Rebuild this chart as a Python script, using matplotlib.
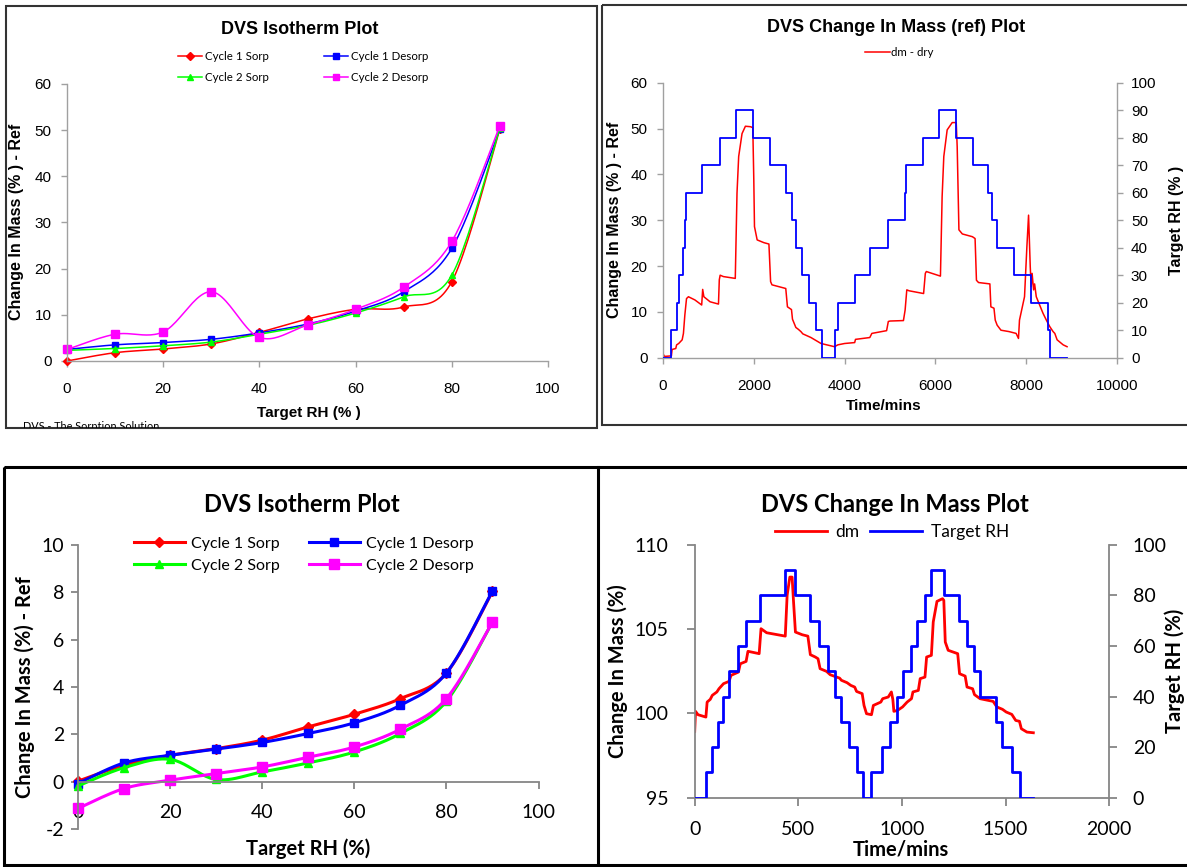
import numpy as np
import matplotlib
matplotlib.use("Agg")
import matplotlib.pyplot as plt
from matplotlib.lines import Line2D
from matplotlib.patches import Rectangle

W, H = 1187, 867
TOP_FONT = ["Liberation Sans", "DejaVu Sans"]
BOT_FONT = ["Lato", "DejaVu Sans"]
plt.rcParams["axes.unicode_minus"] = False

# ---- data -------------------------------------------------------------
RH = [0, 10, 20, 30, 40, 50, 60, 70, 80, 90]

# top-left isotherm (ref sample)
TL_C1_SORP = [0.0, 1.8, 2.6, 3.7, 6.2, 9.1, 11.2, 11.7, 17.2, 50.3]
TL_C1_DESORP = [2.5, 3.5, 4.0, 4.7, 6.1, 8.0, 10.8, 15.0, 24.4, 50.2]
TL_C2_SORP = [2.3, 2.7, 3.3, 4.1, 5.8, 7.7, 10.4, 13.9, 18.6, 50.5]
TL_C2_DESORP = [2.5, 5.8, 6.3, 15.0, 5.1, 7.8, 11.2, 16.0, 25.9, 51.0]

# bottom-left isotherm
BL_C1_SORP = [0.03, 0.70, 1.12, 1.40, 1.76, 2.32, 2.85, 3.51, 4.59, 8.03]
BL_C1_DESORP = [-0.07, 0.80, 1.12, 1.38, 1.66, 2.04, 2.49, 3.23, 4.59, 8.05]
BL_C2_SORP = [-0.17, 0.60, 0.95, 0.10, 0.42, 0.80, 1.26, 2.04, 3.40, 6.74]
BL_C2_DESORP = [-1.12, -0.28, 0.07, 0.35, 0.63, 1.04, 1.47, 2.22, 3.51, 6.74]

# top-right: dm - dry trace (time/min, %)
TR_DM = [(0, 0.9), (30, 0.3), (60, 0.3), (185, 0.4), (200, 1.8), (281, 2.0),
         (300, 2.8), (346, 3.1), (422, 3.9), (450, 5.3), (481, 9.3), (518, 12.9),
         (560, 13.3), (703, 12.6), (852, 11.5), (874, 14.9), (900, 13.3),
         (1037, 12.2), (1222, 11.7), (1240, 17.0), (1259, 18.0), (1330, 17.7),
         (1592, 17.3), (1630, 35.9), (1667, 43.9), (1741, 48.9), (1815, 50.5),
         (1926, 50.4), (1978, 50.2), (2000, 38.8), (2015, 28.6), (2074, 25.7),
         (2222, 25.1), (2333, 24.8), (2370, 16.6), (2400, 15.9), (2704, 15.1),
         (2741, 11.1), (2830, 10.5), (2852, 8.4), (2926, 6.6), (2980, 6.2),
         (3037, 5.7), (3080, 5.2), (3259, 4.4), (3481, 3.1), (3778, 2.4),
         (3850, 2.8), (4000, 3.1), (4222, 3.3), (4240, 4.0), (4555, 4.4),
         (4600, 5.3), (4925, 5.9), (4963, 7.9), (5000, 8.0), (5296, 8.1),
         (5333, 10.4), (5370, 14.8), (5420, 14.6), (5740, 14.0), (5778, 18.4),
         (5800, 18.8), (6111, 17.8), (6148, 35.1), (6185, 43.9), (6259, 49.7),
         (6370, 51.3), (6459, 51.3), (6480, 46.0), (6518, 27.9), (6593, 27.0),
         (6815, 26.4), (6874, 26.0), (6904, 16.9), (6950, 16.4), (7200, 16.1),
         (7222, 11.1), (7290, 10.8), (7318, 8.2), (7360, 7.1), (7444, 6.0),
         (7620, 5.7), (7778, 5.3), (7830, 4.2), (7852, 8.2), (7963, 13.3),
         (8015, 24.2), (8052, 31.1), (8089, 19.9), (8110, 15.5), (8130, 18.4),
         (8163, 14.8), (8185, 16.1), (8222, 13.3), (8296, 11.5), (8370, 9.7),
         (8444, 8.2), (8518, 6.8), (8592, 5.7), (8630, 5.3), (8681, 3.9),
         (8815, 2.8), (8900, 2.4)]

# top-right: target RH step changes (time/min, %RH)
TR_RH = [(0, 0), (185, 10), (300, 20), (350, 30), (440, 40), (490, 50), (515, 60),
         (860, 70), (1250, 80), (1610, 90), (1990, 80), (2350, 70), (2720, 60),
         (2850, 50), (2930, 40), (3060, 30), (3220, 20), (3370, 10), (3500, 0),
         (3790, 10), (3850, 20), (4220, 30), (4570, 40), (4950, 50), (5320, 60),
         (5350, 70), (5720, 80), (6090, 90), (6450, 80), (6820, 70), (7160, 60),
         (7250, 50), (7360, 40), (7740, 30), (8100, 20), (8480, 10), (8535, 0),
         (8900, 0)]

# bottom-right: dm trace (time/min, %)
BR_DM = [(0, 98.93), (4, 100.12), (16, 99.92), (54, 99.78), (60, 100.67),
         (75, 100.83), (85, 101.07), (107, 101.27), (117, 101.46), (139, 101.76),
         (166, 101.9), (175, 102.25), (211, 102.45), (220, 102.94), (248, 103.08),
         (257, 103.68), (311, 103.54), (320, 105.02), (347, 104.78), (437, 104.58),
         (446, 107.0), (459, 108.08), (470, 108.08), (477, 106.6), (486, 104.82),
         (519, 104.66), (546, 104.58), (558, 103.48), (582, 103.34), (595, 103.24),
         (605, 102.65), (636, 102.49), (654, 102.29), (699, 102.09), (708, 101.96),
         (735, 101.82), (753, 101.66), (772, 101.56), (781, 101.30), (808, 101.17),
         (817, 100.47), (829, 99.98), (853, 99.92), (862, 100.47), (898, 100.67),
         (907, 100.87), (934, 100.97), (949, 101.27), (956, 100.83), (961, 100.12),
         (979, 100.18), (1003, 100.38), (1025, 100.67), (1046, 100.87),
         (1053, 101.27), (1079, 101.36), (1088, 102.06), (1111, 102.15),
         (1119, 103.34), (1142, 103.44), (1151, 105.42), (1169, 106.64),
         (1196, 106.8), (1202, 106.7), (1209, 104.23), (1223, 103.74),
         (1269, 103.54), (1278, 102.35), (1305, 102.21), (1314, 101.56),
         (1341, 101.46), (1350, 101.11), (1377, 100.87), (1440, 100.71),
         (1458, 100.38), (1485, 100.24), (1503, 100.08), (1530, 99.94),
         (1549, 99.58), (1567, 99.53), (1576, 99.09), (1603, 98.89), (1634, 98.85)]

# bottom-right: target RH step changes
BR_RH = [(0, 0), (54, 10), (85, 20), (112, 30), (136, 40), (166, 50), (211, 60),
         (248, 70), (316, 80), (437, 90), (486, 80), (555, 70), (600, 60),
         (645, 50), (678, 40), (708, 30), (745, 20), (781, 10), (811, 0),
         (853, 10), (902, 20), (943, 30), (974, 40), (1003, 50), (1046, 60),
         (1075, 70), (1111, 80), (1142, 90), (1202, 80), (1274, 70), (1314, 60),
         (1350, 50), (1377, 40), (1455, 30), (1485, 20), (1530, 10), (1570, 0),
         (1634, 0)]

SERIES_NAMES = ["Cycle 1 Sorp", "Cycle 1 Desorp", "Cycle 2 Sorp", "Cycle 2 Desorp"]
SERIES_COLORS = ["#ff0000", "#0000ff", "#00ff00", "#ff00ff"]
SERIES_MARKERS = ["D", "s", "^", "s"]


def smooth(x, y, n=24):
    # excel-style smoothed line (bezier through points, tension 1/6)
    p = np.column_stack([x, y]).astype(float)
    out = [p[0]]
    t = np.linspace(0, 1, n)[1:, None]
    for i in range(len(p) - 1):
        p0, p1, p2 = p[max(i - 1, 0)], p[i], p[i + 1]
        p3 = p[min(i + 2, len(p) - 1)]
        c1 = p1 + (p2 - p0) / 6
        c2 = p2 - (p3 - p1) / 6
        seg = (1 - t) ** 3 * p1 + 3 * (1 - t) ** 2 * t * c1 + 3 * (1 - t) * t ** 2 * c2 + t ** 3 * p2
        out.extend(seg)
    return np.array(out)


def axes_px(fig, x0, y0, x1, y1):
    return fig.add_axes([x0 / W, 1 - y1 / H, (x1 - x0) / W, (y1 - y0) / H])


def style_axes(ax, color, lw, sides):
    for s in ["left", "right", "top", "bottom"]:
        ax.spines[s].set_visible(s in sides)
        ax.spines[s].set_color(color)
        ax.spines[s].set_linewidth(lw)
    ax.patch.set_visible(False)


fig = plt.figure(figsize=(W / 100, H / 100), dpi=100)

# ---- top-left: isotherm (ref) ------------------------------------------
ax = axes_px(fig, 67, 84, 548, 361)
style_axes(ax, "#a0a0a0", 1.0, ["left", "bottom"])
ms_tl = [4.0, 4.5, 5.0, 5.5]
for vals, c, m, s in zip([TL_C1_SORP, TL_C1_DESORP, TL_C2_SORP, TL_C2_DESORP],
                         SERIES_COLORS, SERIES_MARKERS, ms_tl):
    cv = smooth(RH, vals)
    ax.plot(cv[:, 0], cv[:, 1], color=c, lw=1.1, clip_on=False)
    ax.plot(RH, vals, ls="none", marker=m, ms=s, color=c, mec=c, clip_on=False)
ax.set_xlim(0, 100)
ax.set_ylim(0, 60)
ax.set_xticks(range(0, 101, 20))
ax.set_yticks(range(0, 61, 10))
ax.tick_params(direction="out", length=4, width=1, color="#a0a0a0",
               labelsize=11, labelfontfamily=TOP_FONT)
ax.tick_params(axis="x", pad=11)
ax.tick_params(axis="y", pad=7)
h = [Line2D([], [], color=c, marker=m, ms=s * 0.9, lw=1.1)
     for c, m, s in zip(SERIES_COLORS, SERIES_MARKERS, ms_tl)]
fig.legend([h[0], h[2], h[1], h[3]], [SERIES_NAMES[0], SERIES_NAMES[2], SERIES_NAMES[1], SERIES_NAMES[3]],
           ncol=2, loc="center", bbox_to_anchor=(303 / W, 1 - 67 / H), frameon=False,
           prop={"family": BOT_FONT, "size": 8.3}, handlelength=2.1, handletextpad=0.25,
           columnspacing=4.8, labelspacing=0.85, borderpad=0)

# ---- top-right: change in mass (ref) ------------------------------------
ax = axes_px(fig, 663, 82.7, 1117, 357.7)
axr = ax.twinx()
style_axes(ax, "#a0a0a0", 1.0, ["left", "bottom"])
style_axes(axr, "#a0a0a0", 1.0, ["right"])
t, v = zip(*TR_DM)
ax.plot(t, v, color="#ff0000", lw=1.1, label="dm - dry")
t, v = zip(*TR_RH)
axr.step(t, v, where="post", color="#0000ff", lw=1.3)
ax.set_xlim(0, 10000)
ax.set_ylim(0, 60)
axr.set_ylim(0, 100)
ax.set_xticks(range(0, 10001, 2000))
ax.set_yticks(range(0, 61, 10))
axr.set_yticks(range(0, 101, 10))
for a in (ax, axr):
    a.tick_params(direction="out", length=4, width=1, color="#a0a0a0",
                  labelsize=11, labelfontfamily=TOP_FONT)
ax.tick_params(axis="x", pad=11)
ax.tick_params(axis="y", pad=7)
axr.tick_params(axis="y", pad=6)
fig.legend([Line2D([], [], color="#ff0000", lw=1.1)], ["dm - dry"], loc="center",
           bbox_to_anchor=(899 / W, 1 - 52.5 / H), frameon=False,
           prop={"family": BOT_FONT, "size": 8.3}, handlelength=2.2, handletextpad=0.1,
           borderpad=0)

# ---- bottom-left: isotherm ----------------------------------------------
ax = axes_px(fig, 78, 544.7, 538.5, 829.3)
style_axes(ax, "#868686", 1.3, ["left", "bottom"])
ax.spines["bottom"].set_position(("data", 0))
ms_bl = [5.0, 6.0, 5.5, 6.5]
for vals, c, m, s in zip([BL_C1_SORP, BL_C1_DESORP, BL_C2_SORP, BL_C2_DESORP],
                         SERIES_COLORS, SERIES_MARKERS, ms_bl):
    cv = smooth(RH, vals)
    ax.plot(cv[:, 0], cv[:, 1], color=c, lw=2.2, clip_on=False)
    ax.plot(RH, vals, ls="none", marker=m, ms=s, color=c, mec=c, clip_on=False)
ax.set_xlim(0, 100)
ax.set_ylim(-2, 10)
ax.set_xticks(range(0, 101, 20))
ax.set_yticks(range(-2, 11, 2))
ax.tick_params(direction="out", length=5, width=1.3, color="#868686",
               labelsize=14, labelfontfamily=BOT_FONT)
ax.tick_params(axis="x", pad=11)
ax.tick_params(axis="y", pad=5)
h = [Line2D([], [], color=c, marker=m, ms=s, lw=2.2)
     for c, m, s in zip(SERIES_COLORS, SERIES_MARKERS, ms_bl)]
fig.legend([h[0], h[2], h[1], h[3]], [SERIES_NAMES[0], SERIES_NAMES[2], SERIES_NAMES[1], SERIES_NAMES[3]],
           ncol=2, loc="center", bbox_to_anchor=(304 / W, 1 - 554.5 / H), frameon=False,
           prop={"family": BOT_FONT, "size": 11.5}, handlelength=3.2, handletextpad=0.4,
           columnspacing=1.8, labelspacing=0.5, borderpad=0)

# ---- bottom-right: change in mass ---------------------------------------
ax = axes_px(fig, 694.7, 544.7, 1109.2, 797.7)
axr = ax.twinx()
style_axes(ax, "#868686", 1.3, ["left", "bottom"])
style_axes(axr, "#868686", 1.3, ["right"])
t, v = zip(*BR_DM)
ax.plot(t, v, color="#ff0000", lw=2.0)
t, v = zip(*BR_RH)
axr.step(t, v, where="post", color="#0000ff", lw=2.0)
ax.set_xlim(0, 2000)
ax.set_ylim(95, 110)
axr.set_ylim(0, 100)
ax.set_xticks(range(0, 2001, 500))
ax.set_yticks([95, 100, 105, 110])
axr.set_yticks(range(0, 101, 20))
for a in (ax, axr):
    a.tick_params(direction="out", length=6, width=1.3, color="#868686",
                  labelsize=14, labelfontfamily=BOT_FONT)
ax.tick_params(axis="x", pad=11)
ax.tick_params(axis="y", pad=13)
axr.tick_params(axis="y", pad=11)
fig.legend([Line2D([], [], color="#ff0000", lw=2.0), Line2D([], [], color="#0000ff", lw=2.0)],
           ["dm", "Target RH"], ncol=2, loc="center",
           bbox_to_anchor=(892 / W, 1 - 532 / H), frameon=False,
           prop={"family": BOT_FONT, "size": 12.5}, handlelength=3.0, handletextpad=0.5,
           columnspacing=0.6, borderpad=0)

# ---- titles, labels and frames (pixel overlay) ---------------------------
ov = fig.add_axes([0, 0, 1, 1], zorder=10)
ov.set_xlim(0, W)
ov.set_ylim(H, 0)
ov.axis("off")


def txt(x, y, s, fam, size, bold=True, rot=0, **kw):
    ov.text(x, y, s, family=fam, fontsize=size, fontweight="bold" if bold else "normal",
            rotation=rot, ha="center", va="center", **kw)


txt(300, 29, "DVS Isotherm Plot", TOP_FONT, 13)
txt(17, 222, "Change In Mass (% ) - Ref", TOP_FONT, 11.5, rot=90)
txt(309, 413, "Target RH (% )", TOP_FONT, 11)
sig = ov.text(23, 429.5, "DVS - The Sorption Solution", family=BOT_FONT, fontsize=7.8,
              ha="left", va="baseline", clip_on=True)
sig.set_clip_path(Rectangle((6, 6), 591, 422, transform=ov.transData))

txt(896, 27, "DVS Change In Mass (ref) Plot", TOP_FONT, 13)
txt(614, 220, "Change In Mass (% ) - Ref", TOP_FONT, 11.5, rot=90)
txt(1176, 220, "Target RH (% )", TOP_FONT, 11.5, rot=90)
txt(884, 406, "Time/mins", TOP_FONT, 11)

txt(302, 504, "DVS Isotherm Plot", BOT_FONT, 17)
txt(25, 687, "Change In Mass (%) - Ref", BOT_FONT, 14.5, rot=90)
txt(308, 849, "Target RH (%)", BOT_FONT, 14.5)

txt(895, 504, "DVS Change In Mass Plot", BOT_FONT, 17)
txt(618, 671, "Change In Mass (%)", BOT_FONT, 14.5, rot=90)
txt(1175, 671, "Target RH (%)", BOT_FONT, 14.5, rot=90)
txt(901, 849, "Time/mins", BOT_FONT, 14.5)

ov.add_patch(Rectangle((6, 6), 591, 422, fill=False, ec="#333333", lw=1.5))
ov.add_patch(Rectangle((602, 5), 600, 420, fill=False, ec="#333333", lw=1.5))
ov.add_patch(Rectangle((4, 467), 1200, 398, fill=False, ec="black", lw=2.2))
ov.plot([598, 598], [467, H], color="black", lw=2.2)

fig.savefig("out.png", dpi=100)
